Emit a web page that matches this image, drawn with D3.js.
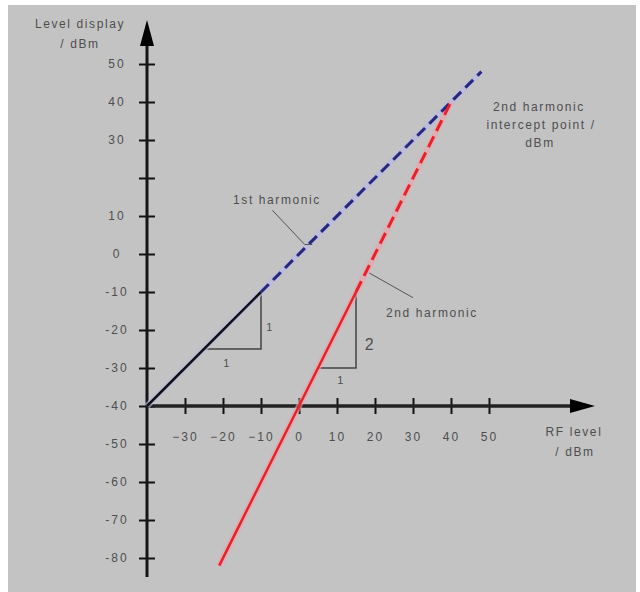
<!DOCTYPE html>
<meta charset="utf-8">
<style>
body { margin: 0; background: #fff; }
text { font-family: "Liberation Sans", Arial, sans-serif; fill: #4e4e4e; }
.tick text { font-size: 12px; letter-spacing: 2px; }
.note { font-size: 12px; letter-spacing: 1.6px; }
</style>
<svg width="640" height="592"></svg>
<script src="https://d3js.org/d3.v7.min.js"></script>
<script>

// RF level (x) vs level display (y), both in dBm
var xTicks = [-30, -20, -10, 0, 10, 20, 30, 40, 50];
var yTicks = [50, 40, 30, 20, 10, 0, -10, -20, -30, -40, -50, -60, -70, -80];
var yLabels = ["50", "40", "30", "", "10", "0", "-10", "-20", "-30", "-40", "-50", "-60", "-70", "-80"];

// 1st harmonic: measured part (solid) and extrapolation (dashed)
var h1Solid = [[-40, -40], [-10, -10]];
var h1Dashed = [[-10, -10], [48, 48]];
// 2nd harmonic, slope 2
var h2Solid = [[-21, -82], [15, -10]];
var h2Dashed = [[15, -10], [40, 40]];

// slope triangles
var tri1 = [[-25, -25], [-10, -25], [-10, -10]];
var tri2 = [[5, -30], [15, -30], [15, -10]];

var svg = d3.select("svg");

var x = d3.scaleLinear().domain([-40, 50]).range([147, 489]);
var y = d3.scaleLinear().domain([-40, 50]).range([406, 64]);

var line = d3.line()
    .x(function(d) { return x(d[0]); })
    .y(function(d) { return y(d[1]); });

// grey panel
svg.append("rect")
    .attr("x", 8).attr("y", 5)
    .attr("width", 628).attr("height", 587)
    .attr("fill", "#c3c3c3");

// axes
var xAxis = d3.axisBottom(x).tickValues(xTicks).tickSize(8).tickPadding(0);
var gx = svg.append("g")
    .attr("transform", "translate(0," + y(-40) + ")")
    .call(xAxis);
gx.select(".domain").remove();
gx.selectAll(".tick line").attr("y1", -8).attr("y2", 8)
    .attr("stroke", "#111").attr("stroke-width", 2);
gx.selectAll(".tick text").attr("y", 35).attr("dy", 0)
    .attr("font-family", null).attr("font-size", null).attr("fill", null);

var yAxis = d3.axisLeft(y).tickValues(yTicks).tickSize(8)
    .tickFormat(function(d, i) { return yLabels[i]; });
var gy = svg.append("g")
    .attr("transform", "translate(" + x(-40) + ",0)")
    .call(yAxis);
gy.select(".domain").remove();
gy.selectAll(".tick line").attr("x1", -8).attr("x2", 8)
    .attr("stroke", "#111").attr("stroke-width", 2);
gy.selectAll(".tick text").attr("x", -30).attr("text-anchor", "middle")
    .attr("font-family", null).attr("font-size", null).attr("fill", null);

// axis lines with arrow heads
svg.append("line")
    .attr("x1", x(-40)).attr("y1", 40)
    .attr("x2", x(-40)).attr("y2", 577)
    .attr("stroke", "#151515").attr("stroke-width", 3);
svg.append("line")
    .attr("x1", x(-40)).attr("y1", y(-40))
    .attr("x2", 575).attr("y2", y(-40))
    .attr("stroke", "#222").attr("stroke-width", 3.5);
svg.append("path")
    .attr("d", "M" + (x(-40) - 7) + ",46L" + x(-40) + ",20L" + (x(-40) + 7) + ",46Z")
    .attr("fill", "#000");
svg.append("path")
    .attr("d", "M570," + (y(-40) - 7) + "L595," + y(-40) + "L570," + (y(-40) + 7) + "Z")
    .attr("fill", "#000");

// slope triangles
[tri1, tri2].forEach(function(t) {
  svg.append("path")
      .attr("d", line(t))
      .attr("fill", "none")
      .attr("stroke", "#444")
      .attr("stroke-width", 1.5);
});

// halos behind the curves
svg.append("path").attr("d", line([h1Solid[0], h1Dashed[1]]))
    .attr("fill", "none").attr("stroke", "#b9b9e6").attr("stroke-width", 6).attr("opacity", 0.7);
svg.append("path").attr("d", line([h2Solid[0], h2Dashed[1]]))
    .attr("fill", "none").attr("stroke", "#f0a0a8").attr("stroke-width", 6).attr("opacity", 0.6);

// curves
svg.append("path").attr("d", line(h1Solid))
    .attr("fill", "none").attr("stroke", "#111").attr("stroke-width", 2.5);
svg.append("path").attr("d", line(h1Dashed))
    .attr("fill", "none").attr("stroke", "#26267a").attr("stroke-width", 3)
    .attr("stroke-dasharray", "11,6");
svg.append("path").attr("d", line(h2Solid))
    .attr("fill", "none").attr("stroke", "#e8202a").attr("stroke-width", 2.5);
svg.append("path").attr("d", line(h2Dashed))
    .attr("fill", "none").attr("stroke", "#e8202a").attr("stroke-width", 3)
    .attr("stroke-dasharray", "12,6");

// leader lines
svg.append("path").attr("d", line([[-7, 11.5], [1.5, 2.5], [3.5, 2.5]]))
    .attr("fill", "none").attr("stroke", "#555").attr("stroke-width", 1);
svg.append("path").attr("d", line([[18.5, -5], [30, -11.5]]))
    .attr("fill", "none").attr("stroke", "#555").attr("stroke-width", 1);

// texts
function note(tx, ty, s, size) {
  svg.append("text").attr("class", "note")
      .attr("x", tx).attr("y", ty)
      .attr("text-anchor", "middle")
      .style("font-size", size ? size + "px" : null)
      .text(s);
}
note(80, 28, "Level display");
note(80, 48, "/ dBm");
note(574, 436, "RF level");
note(575, 456, "/ dBm");
note(277, 204, "1st harmonic");
note(432, 317, "2nd harmonic");
note(539, 111, "2nd harmonic");
note(541, 129, "intercept point /");
note(540, 147, "dBm");
note(270, 331, "1", 11);
note(227, 367, "1", 11);
note(370, 350, "2", 16);
note(341, 384, "1", 11);

</script>
